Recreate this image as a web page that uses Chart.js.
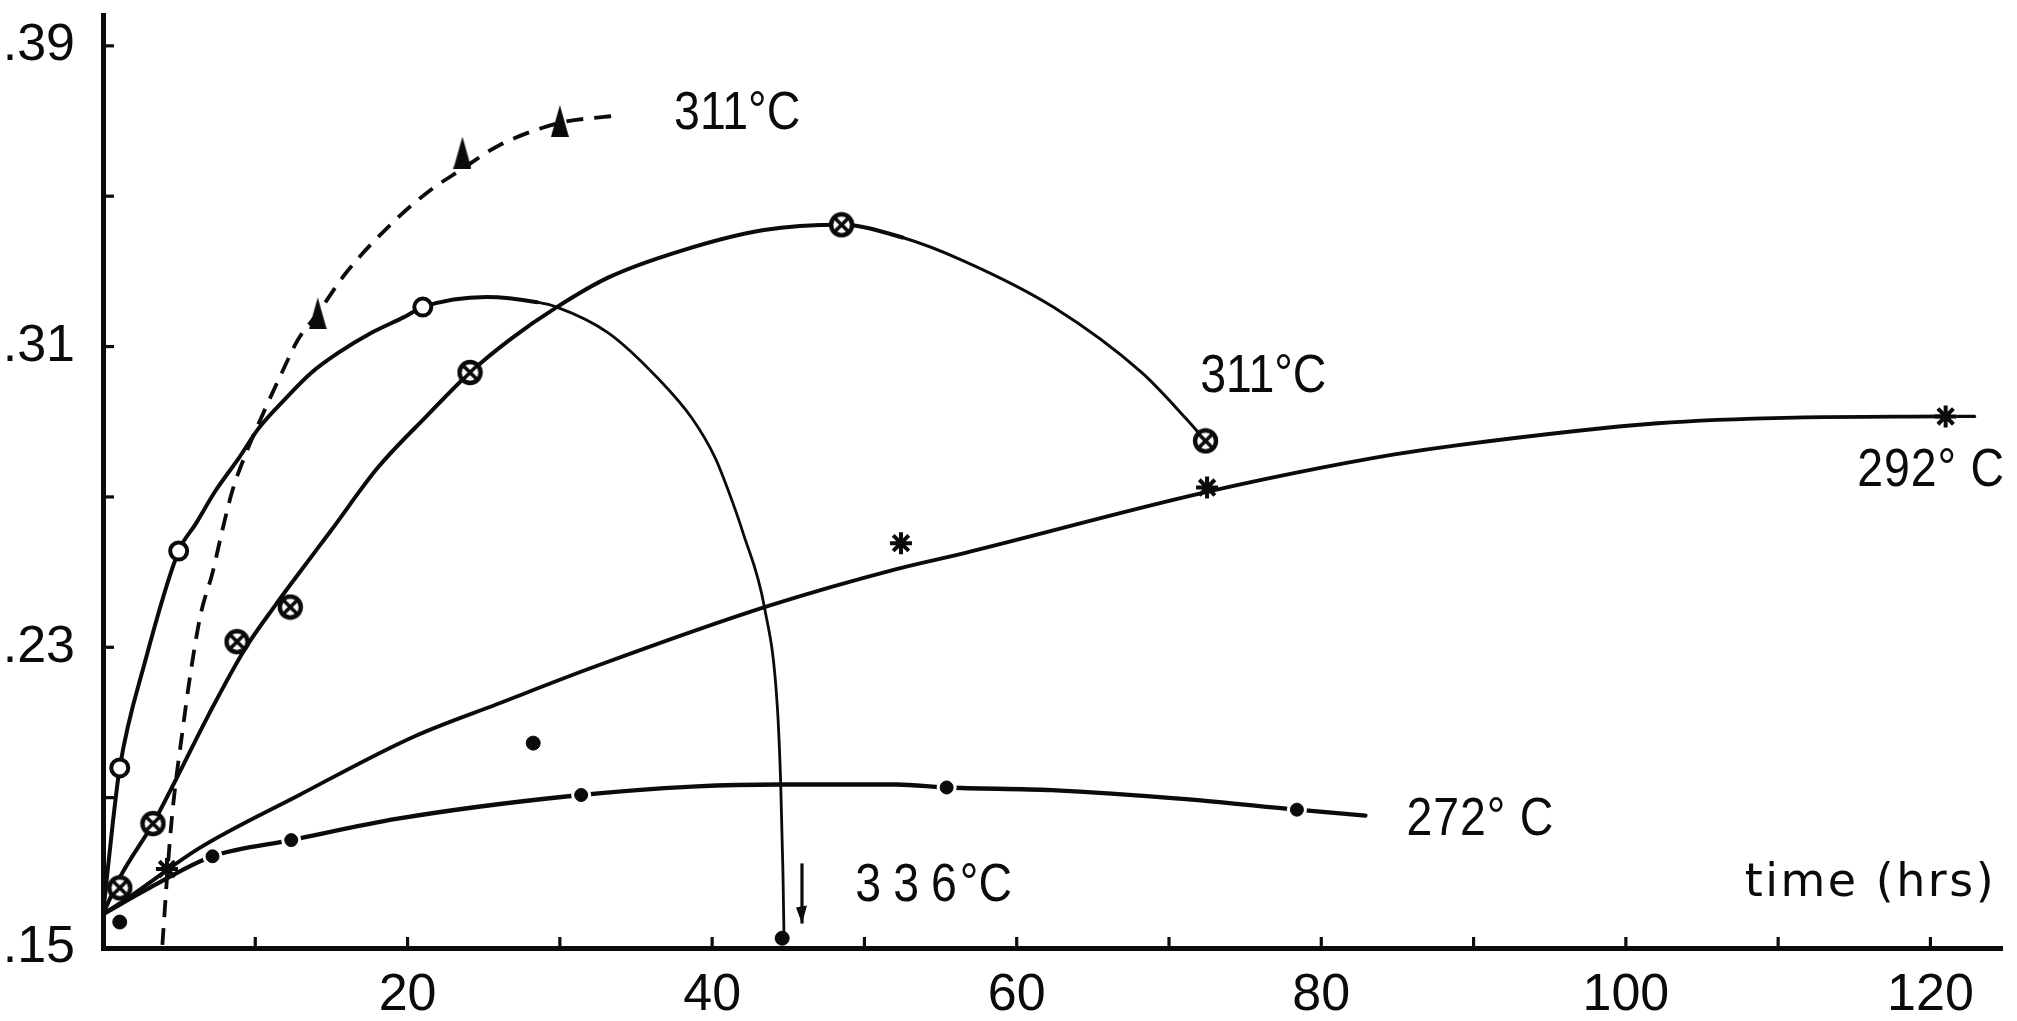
<!DOCTYPE html>
<html><head><meta charset="utf-8">
<script src="https://cdn.jsdelivr.net/npm/chart.js@4.4.1/dist/chart.umd.min.js"></script>
<style>html,body{margin:0;padding:0;background:#fff;overflow:hidden}canvas{display:block}</style>
</head><body>
<canvas id="c" width="2017" height="1021"></canvas>
<script>
// ---------------- data ----------------
// axis ticks
const xTickValues = [0,10,20,30,40,50,60,70,80,90,100,110,120];
const xTickLabels = ['','','20','','40','','60','','80','','100','','120'];
const yTickValues = [0.15,0.19,0.23,0.27,0.31,0.35,0.39];
const yTickLabels = ['.15','','.23','','.31','','.39'];

// 336 °C  (open circles, solid curve)
const curve336X = [0, 0.65, 1.1, 2.75, 4.97, 6.1, 7.4, 8.93, 10.23, 11.97, 13.7, 15.44, 17.6, 19.8, 21.0, 25.2, 28.5, 29.8, 33.2, 36.5, 38.7, 40.2, 41.06, 42.04, 43.45, 44.27, 44.5, 44.65, 44.72];
const curve336Y = [0.159, 0.1835, 0.198, 0.226, 0.2556, 0.2629, 0.2717, 0.2804, 0.2883, 0.2961, 0.3031, 0.3083, 0.3136, 0.3179, 0.3205, 0.3232, 0.3218, 0.3205, 0.3136, 0.3013, 0.2908, 0.2804, 0.2717, 0.2603, 0.2403, 0.2149, 0.194, 0.170, 0.1526];
const points336X = [1.1, 4.97, 21.0];
const points336Y = [0.1979, 0.2556, 0.3205];

// 311 °C  (circled crosses, solid curve)
const curve311X = [0, 1.1, 3.28, 4.8, 6.97, 9.36, 11.3, 12.83, 15.0, 18.05, 21.3, 24.1, 26.7, 29.8, 33.2, 37.9, 43.4, 48.5, 52.5, 56.5, 62.4, 68.2, 71.1, 72.4];
const curve311Y = [0.159, 0.1687, 0.1831, 0.1949, 0.2123, 0.2298, 0.2411, 0.2495, 0.2612, 0.2778, 0.2917, 0.3031, 0.3118, 0.3205, 0.3284, 0.3354, 0.341, 0.3424, 0.339, 0.3328, 0.3205, 0.3031, 0.2909, 0.2849];
const points311X = [1.1, 3.28, 8.8, 12.3, 24.1, 48.5, 72.4];
const points311Y = [0.166, 0.1831, 0.2315, 0.2407, 0.3031, 0.3424, 0.2849];

// 311 °C  (filled triangles, dashed curve)
const dashed311X = [3.9, 4.25, 4.58, 5.23, 5.67, 6.4, 7.19, 7.84, 8.5, 9.36, 10.66, 11.75, 12.8, 14.1, 15.9, 18.9, 21.3, 23.5, 26.0, 30.0, 33.4];
const dashed311Y = [0.1508, 0.1713, 0.187, 0.208, 0.221, 0.2385, 0.2498, 0.2612, 0.2717, 0.2813, 0.2935, 0.3031, 0.3118, 0.3188, 0.3293, 0.3425, 0.351, 0.357, 0.3635, 0.3695, 0.3713];
const triangles311X = [14.1, 23.6, 30.0];
const triangles311Y = [0.3188, 0.3616, 0.370];

// 292 °C  (stars, solid curve)
const curve292X = [0, 1.98, 6.3, 12.8, 20.4, 25.9, 32.4, 43.7, 52.1, 56.5, 71.1, 78.2, 84.8, 89.0, 102.1, 111.1, 120.8];
const curve292Y = [0.159, 0.1643, 0.1765, 0.1905, 0.2062, 0.2149, 0.225, 0.241, 0.2508, 0.255, 0.270, 0.2763, 0.2813, 0.2838, 0.2896, 0.2911, 0.2914];
const tail292X = [121.8, 122.9];
const tail292Y = [0.2914, 0.2914];
const stars292X = [4.2, 52.4, 72.5, 121.0];
const stars292Y = [0.171, 0.2577, 0.2725, 0.2914];

// 272 °C  (filled dots, solid curve)
const curve272X = [0, 3.06, 7.19, 12.36, 19.35, 30.4, 39.0, 44.5, 52.1, 55.4, 62.3, 71.1, 78.4, 82.9];
const curve272Y = [0.159, 0.166, 0.1744, 0.1787, 0.1844, 0.1903, 0.193, 0.1935, 0.1935, 0.1927, 0.192, 0.1896, 0.1868, 0.1852];
const dots272X = [7.19, 12.36, 31.4, 55.4, 78.4];
const dots272Y = [0.1744, 0.1787, 0.1907, 0.1927, 0.1868];

// isolated filled points
const strayX = [1.1, 28.25, 44.6];
const strayY = [0.1569, 0.2045, 0.1526];

// ---------------- drawing ----------------
const ink = '#0b0b0b';
const pts = (xs, ys) => xs.map((x, i) => ({x, y: ys[i]}));

function otimes(r) {
  const c = document.createElement('canvas');
  const s = Math.ceil(2 * r + 6); c.width = s; c.height = s;
  const g = c.getContext('2d'); const m = s / 2;
  g.fillStyle = '#fff'; g.strokeStyle = ink; g.lineWidth = 4.4;
  g.beginPath(); g.arc(m, m, r, 0, Math.PI * 2); g.fill(); g.stroke();
  g.lineWidth = 3.6; const d = r * 0.72;
  g.beginPath(); g.moveTo(m - d, m - d); g.lineTo(m + d, m + d); g.moveTo(m + d, m - d); g.lineTo(m - d, m + d); g.stroke();
  return c;
}
function tallTriangle(w, h) {
  const c = document.createElement('canvas'); c.width = w; c.height = h;
  const g = c.getContext('2d'); g.fillStyle = ink;
  g.beginPath(); g.moveTo(w / 2, 0); g.lineTo(w, h); g.lineTo(0, h); g.closePath(); g.fill();
  return c;
}

const curveBase = {showLine: true, pointRadius: 0, pointHoverRadius: 0, borderColor: ink, fill: false,
  cubicInterpolationMode: 'monotone', order: 10, borderCapStyle: 'round', borderJoinStyle: 'round'};

const datasets = [
  Object.assign({}, curveBase, {data: pts(curve336X, curve336Y), borderWidth: 4,
    segment: {borderWidth: c => c.p0.parsed.x > 27 ? 2.8 : 4}}),
  Object.assign({}, curveBase, {data: pts(curve311X, curve311Y), borderWidth: 4,
    segment: {borderWidth: c => c.p0.parsed.x > 50 ? 3 : 4}}),
  Object.assign({}, curveBase, {data: pts(dashed311X, dashed311Y), borderWidth: 3.8, borderDash: [17, 11], borderCapStyle: 'butt'}),
  Object.assign({}, curveBase, {data: pts(curve292X, curve292Y), borderWidth: 3.8}),
  Object.assign({}, curveBase, {data: pts(tail292X, tail292Y), borderWidth: 3.2, cubicInterpolationMode: 'default', tension: 0}),
  Object.assign({}, curveBase, {data: pts(curve272X, curve272Y), borderWidth: 4.3}),
  // white gaps around the 272 dots
  {data: pts(dots272X, dots272Y), showLine: false, pointStyle: 'circle', pointRadius: 10, pointBackgroundColor: '#fff', pointBorderColor: '#fff', pointBorderWidth: 0, order: 5},
  {data: pts(dots272X, dots272Y), showLine: false, pointStyle: 'circle', pointRadius: 6.5, pointBackgroundColor: ink, pointBorderColor: ink, pointBorderWidth: 1, order: 1},
  {data: pts(points336X, points336Y), showLine: false, pointStyle: 'circle', pointRadius: 8.5, pointBackgroundColor: '#fff', pointBorderColor: ink, pointBorderWidth: 4, order: 1},
  {data: pts(points311X, points311Y), showLine: false, pointStyle: otimes(10.5), pointRadius: 10, order: 1},
  {data: pts(triangles311X, triangles311Y), showLine: false, pointStyle: tallTriangle(18, 32), pointRadius: 10, order: 1},
  {data: pts(stars292X, stars292Y), showLine: false, pointStyle: 'star', pointRadius: 11, pointBorderColor: ink, pointBorderWidth: 4, order: 1},
  {data: pts(strayX, strayY), showLine: false, pointStyle: 'circle', pointRadius: 7, pointBackgroundColor: ink, pointBorderColor: ink, pointBorderWidth: 1, order: 1}
];

const labelFont = "54px 'Liberation Sans', Arial, sans-serif";
const textNotes = [
  {parts: [['311°C', 0]], x: 37.5, y: 0.368, font: labelFont, squeeze: 0.86},
  {parts: [['311°C', 0]], x: 72.05, y: 0.298, font: labelFont, squeeze: 0.86},
  {parts: [['292° C', 1]], x: 115.2, y: 0.2728, font: labelFont, squeeze: 0.86},
  {parts: [['272° C', 1]], x: 85.6, y: 0.1801, font: labelFont, squeeze: 0.86},
  {parts: [['336', 14], ['°C', 0]], x: 49.4, y: 0.1626, font: labelFont, squeeze: 0.86},
  {parts: [['time (hrs)', 2.5]], x: 107.8, y: 0.1639, font: "46px 'DejaVu Sans', sans-serif", squeeze: 1}
];
const arrow336 = {x: 45.9, yTop: 0.1725, yBottom: 0.1565};

const inkPlugin = {
  id: 'ink',
  afterDatasetsDraw(chart) {
    const {ctx, chartArea: a, scales: {x, y}} = chart;
    ctx.save();
    ctx.strokeStyle = ink; ctx.fillStyle = ink; ctx.lineWidth = 3.2;
    xTickValues.forEach(v => { const p = x.getPixelForValue(v); ctx.beginPath(); ctx.moveTo(p, a.bottom); ctx.lineTo(p, a.bottom - 11); ctx.stroke(); });
    yTickValues.forEach(v => { const p = y.getPixelForValue(v); ctx.beginPath(); ctx.moveTo(a.left, p); ctx.lineTo(a.left + 11, p); ctx.stroke(); });
    // arrow under the 336 °C label
    const ax = x.getPixelForValue(arrow336.x), at = y.getPixelForValue(arrow336.yTop), ab = y.getPixelForValue(arrow336.yBottom);
    ctx.lineWidth = 3.2; ctx.beginPath(); ctx.moveTo(ax, at); ctx.lineTo(ax, ab); ctx.stroke();
    ctx.beginPath(); ctx.moveTo(ax - 6, ab - 16); ctx.lineTo(ax + 5, ab - 18); ctx.lineTo(ax, ab); ctx.closePath(); ctx.fill();
    // text labels
    ctx.textAlign = 'left'; ctx.textBaseline = 'alphabetic';
    textNotes.forEach(t => {
      ctx.save();
      ctx.translate(x.getPixelForValue(t.x), y.getPixelForValue(t.y));
      ctx.scale(t.squeeze, 1);
      ctx.font = t.font;
      let pen = 0;
      t.parts.forEach(([s, sp], i) => {
        ctx.letterSpacing = sp + 'px';
        ctx.fillText(s, pen, 0);
        pen += ctx.measureText(s).width - (i < t.parts.length - 1 ? sp * 0.75 : 0);
      });
      ctx.restore();
    });
    ctx.restore();
  }
};

Chart.defaults.font.family = "'Liberation Sans', Arial, sans-serif";
Chart.defaults.color = ink;

new Chart(document.getElementById('c'), {
  type: 'scatter',
  data: {datasets},
  options: {
    responsive: false, animation: false, devicePixelRatio: 1,
    layout: {padding: 0},
    plugins: {legend: {display: false}, tooltip: {enabled: false}},
    events: [],
    scales: {
      x: {
        type: 'linear', min: 0, max: 124.7,
        grid: {display: false, drawTicks: false},
        border: {display: true, color: ink, width: 5},
        afterBuildTicks: s => { s.ticks = xTickValues.map(v => ({value: v})); },
        afterFit: s => { s.height = 73; s.paddingLeft = 0; s.paddingRight = 0; },
        ticks: {autoSkip: false, maxRotation: 0, padding: 16, font: {size: 52},
          callback: (v) => xTickLabels[xTickValues.indexOf(v)] ?? ''}
      },
      y: {
        type: 'linear', min: 0.15, max: 0.3982,
        grid: {display: false, drawTicks: false},
        border: {display: true, color: ink, width: 5},
        afterBuildTicks: s => { s.ticks = yTickValues.map(v => ({value: v})); },
        afterFit: s => { s.width = 103; s.paddingTop = 0; s.paddingBottom = 0; },
        ticks: {autoSkip: false, padding: 28, font: {size: 52},
          callback: (v) => { const i = yTickValues.findIndex(t => Math.abs(t - v) < 1e-9); return i >= 0 ? yTickLabels[i] : ''; }}
      }
    }
  },
  plugins: [inkPlugin]
});
</script>
</body></html>
